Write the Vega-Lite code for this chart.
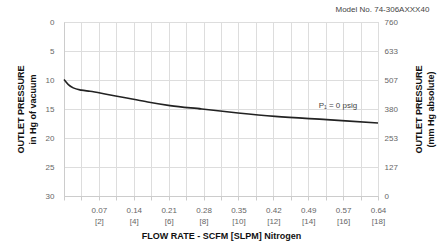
{
  "$schema": "https://vega.github.io/schema/vega-lite/v6.json",
  "width": 314,
  "height": 174,
  "autosize": {"type": "none"},
  "padding": {"left": 64, "top": 22, "right": 70, "bottom": 54},
  "background": "white",
  "config": {
    "font": "Liberation Sans",
    "view": {"stroke": "#cccccc"},
    "axis": {
      "gridColor": "#dddddd",
      "domainColor": "#cccccc",
      "tickColor": "#cccccc",
      "labelColor": "#666666",
      "labelFontSize": 8,
      "titleFontSize": 9,
      "titleFontWeight": "bold",
      "titleColor": "#111111"
    }
  },
  "title": {
    "text": "Model No. 74-306AXXX40",
    "anchor": "end",
    "fontSize": 8,
    "fontWeight": "normal",
    "color": "#444444",
    "offset": 4,
    "dx": -6
  },
  "data": {
    "values": [
      {"slpm": 0, "vac": 9.93},
      {"slpm": 0.25, "vac": 10.8},
      {"slpm": 0.53, "vac": 11.36},
      {"slpm": 1.0, "vac": 11.75},
      {"slpm": 1.49, "vac": 11.94},
      {"slpm": 2.5, "vac": 12.5},
      {"slpm": 3.6, "vac": 13.09},
      {"slpm": 4.8, "vac": 13.8},
      {"slpm": 6.08, "vac": 14.42},
      {"slpm": 7.9, "vac": 15.0},
      {"slpm": 9.98, "vac": 15.68},
      {"slpm": 12.1, "vac": 16.27},
      {"slpm": 15.06, "vac": 16.84},
      {"slpm": 18, "vac": 17.41}
    ]
  },
  "encoding": {
    "x": {
      "field": "slpm",
      "type": "quantitative",
      "scale": {"domain": [0, 18], "nice": false, "zero": false},
      "axis": {
        "values": [0,1,2,3,4,5,6,7,8,9,10,11,12,13,14,15,16,17,18],
        "labelOverlap": false,
        "labelBound": false,
        "labelFlush": false,
        "labelExpr": "datum.value % 2 == 0 && datum.value > 0 ? [{'2':'0.07','4':'0.14','6':'0.21','8':'0.28','10':'0.35','12':'0.42','14':'0.49','16':'0.57','18':'0.64'}[datum.label], '[' + datum.label + ']'] : ''",
        "labelPadding": 6,
        "labelLineHeight": 11,
        "tickSize": 4,
        "title": "FLOW RATE - SCFM [SLPM] Nitrogen",
        "titlePadding": 6
      }
    }
  },
  "layer": [
    {
      "mark": {"type": "line", "color": "#222222", "strokeWidth": 1.6, "interpolate": "monotone"},
      "encoding": {
        "y": {
          "field": "vac",
          "type": "quantitative",
          "scale": {"domain": [0, 30], "reverse": true, "nice": false},
          "axis": {
            "values": [0, 5, 10, 15, 20, 25, 30],
            "labelPadding": 10,
            "ticks": false,
            "title": ["OUTLET PRESSURE", "in Hg of vacuum"],
            "titlePadding": 8,
            "titleLineHeight": 12
          }
        }
      }
    },
    {
      "data": {"values": [{"slpm": 15.7, "vac": 14.5, "label": "P₁ = 0 psig"}]},
      "mark": {"type": "text", "fontSize": 8, "color": "#444444"},
      "encoding": {
        "y": {
          "field": "vac",
          "type": "quantitative",
          "axis": {
            "orient": "right",
            "values": [0, 5, 10, 15, 20, 25, 30],
            "labelExpr": "format(760 - datum.value * 760 / 30, '.0f')",
            "labelPadding": 6,
            "ticks": false,
            "grid": false,
            "domain": false,
            "title": ["OUTLET PRESSURE", "(mm Hg absolute)"],
            "titleAngle": -90,
            "titlePadding": 14,
            "titleLineHeight": 12
          }
        },
        "text": {"field": "label"}
      }
    }
  ],
  "resolve": {"axis": {"y": "independent"}}
}
